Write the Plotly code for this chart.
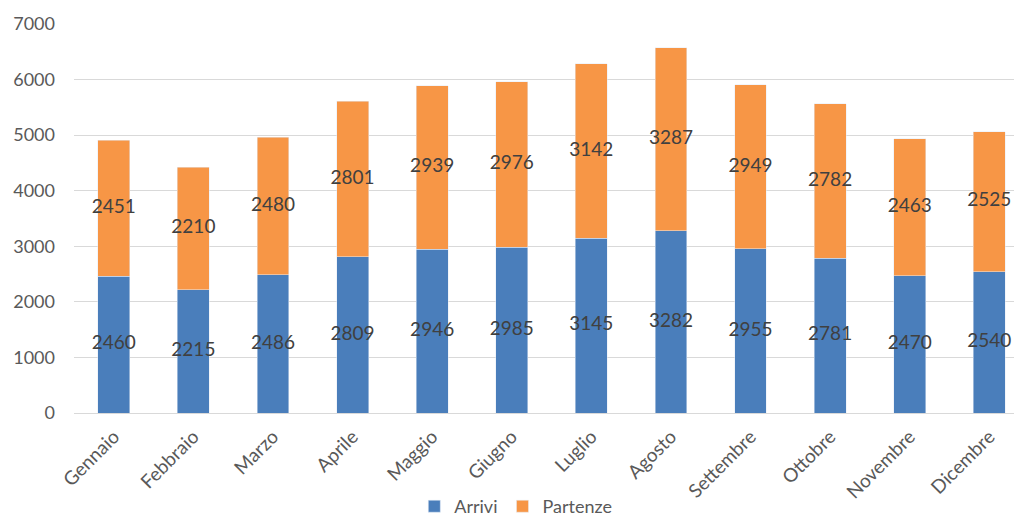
import plotly.graph_objects as go

mesi = ["Gennaio", "Febbraio", "Marzo", "Aprile", "Maggio", "Giugno",
        "Luglio", "Agosto", "Settembre", "Ottobre", "Novembre", "Dicembre"]
arrivi = [2460, 2215, 2486, 2809, 2946, 2985, 3145, 3282, 2955, 2781, 2470, 2540]
partenze = [2451, 2210, 2480, 2801, 2939, 2976, 3142, 3287, 2949, 2782, 2463, 2525]

BLU = "#4a7ebb"
ARANCIO = "#f79646"
FONT = "Lato, 'Open Sans', sans-serif"
TESTO = "#404040"

fig = go.Figure()
fig.add_trace(go.Bar(x=mesi, y=arrivi, name="Arrivi", marker_color=BLU,
                     width=0.4, hoverinfo="y", legendgroup="arr"))
fig.add_trace(go.Bar(x=mesi, y=partenze, name="Partenze", marker_color=ARANCIO,
                     width=0.4, hoverinfo="y", legendgroup="par"))

# value labels centred on each segment
fig.add_trace(go.Scatter(x=mesi, y=[a / 2 for a in arrivi], mode="text",
                         text=[str(a) for a in arrivi], showlegend=False,
                         textfont=dict(family=FONT, size=19, color=TESTO),
                         hoverinfo="skip"))
fig.add_trace(go.Scatter(x=mesi, y=[a + p / 2 for a, p in zip(arrivi, partenze)],
                         mode="text", text=[str(p) for p in partenze],
                         showlegend=False,
                         textfont=dict(family=FONT, size=19, color=TESTO),
                         hoverinfo="skip"))

fig.update_layout(
    barmode="stack",
    width=1014, height=526,
    margin=dict(l=74, r=0, t=24, b=113),
    paper_bgcolor="white", plot_bgcolor="white",
    font=dict(family=FONT, size=18, color="#595959"),
    legend=dict(orientation="h", x=0.47, xanchor="center", y=-0.288,
                yanchor="bottom", traceorder="grouped", tracegroupgap=11,
                font=dict(family=FONT, size=18, color="#595959"),
                itemwidth=30),
)
fig.update_xaxes(range=[-0.5, 11.31], tickangle=-45, showgrid=False,
                 showline=False, ticks="", tickfont=dict(size=19),
                 automargin=False, ticklabelstandoff=8)
fig.update_yaxes(range=[0, 7000], dtick=1000, showgrid=True,
                 gridcolor="#d9d9d9", gridwidth=1, zeroline=True,
                 zerolinecolor="#d9d9d9", zerolinewidth=1, showline=False,
                 ticks="", ticklabelstandoff=18, tickfont=dict(size=18),
                 automargin=False)

fig.write_html("out.html")
